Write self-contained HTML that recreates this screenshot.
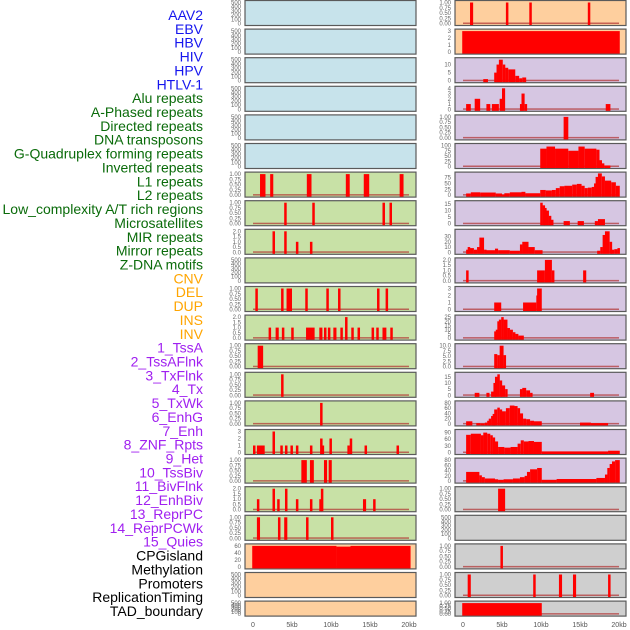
<!DOCTYPE html>
<html><head><meta charset="utf-8"><style>
html,body{margin:0;padding:0;background:#fff;width:630px;height:630px;overflow:hidden}
svg{display:block;font-family:"Liberation Sans",sans-serif}
</style></head><body>
<svg id="chart" width="630" height="630" viewBox="0 0 630 630" xmlns="http://www.w3.org/2000/svg"></svg>
<script>
const labels=["AAV2","EBV","HBV","HIV","HPV","HTLV-1","Alu repeats","A-Phased repeats","Directed repeats","DNA transposons","G-Quadruplex forming repeats","Inverted repeats","L1 repeats","L2 repeats","Low_complexity A/T rich regions","Microsatellites","MIR repeats","Mirror repeats","Z-DNA motifs","CNV","DEL","DUP","INS","INV","1_TssA","2_TssAFlnk","3_TxFlnk","4_Tx","5_TxWk","6_EnhG","7_Enh","8_ZNF_Rpts","9_Het","10_TssBiv","11_BivFlnk","12_EnhBiv","13_ReprPC","14_ReprPCWk","15_Quies","CPGisland","Methylation","Promoters","ReplicationTiming","TAD_boundary"];
const labelGroups=["v","v","v","v","v","v","r","r","r","r","r","r","r","r","r","r","r","r","r","s","s","s","s","s","c","c","c","c","c","c","c","c","c","c","c","c","c","c","c","o","o","o","o","o"];
const xTicks=[0,5,10,15,20];
const xTickLabels=["0","5kb","10kb","15kb","20kb"];
const T500=["0","100","200","300","400","500"];
const T1=["0.00","0.25","0.50","0.75","1.00"];
const T2=["0.0","0.5","1.0","1.5","2.0"];
const T3=["0","1","2","3"];
const T4=["0","1","2","3","4"];
// ticks per panel (values as strings)
const panelTicks=[T500,T500,T500,T500,T500,T500,T1,T1,T2,T500,T1,T2,T1,T1,T1,T3,T1,T2,T1,["0","20","40","60"],T500,T500,
T1,T3,["0","5","10"],T4,T1,["0","25","50","75","100"],["0","25","50","75"],["0","5","10","15"],["0","10","20","30"],T2,T3,["0","5","10","15","20","25"],["0.0","2.5","5.0","7.5","10.0"],["0","5","10","15"],["0","20","40","60","80"],["0","30","60","90"],["0","20","40","60","80"],T1,T500,T1,T1,T1];
const panelMax=[500,500,500,500,500,500,1,1,2,500,1,2,1,1,1,3,1,2,1,60,500,500,
1,3,13,4,1,100,90,16,40,2,3,25,10,17,80,95,80,1,500,1,1,1];
// segments [startKb,endKb,value]
const panelSegs=[[],[],[],[],[],[],
[[0.9,1.6,1],[2.2,2.6,1],[6.9,7.5,1],[11.9,12.4,1],[14.2,14.9,1],[18.8,19.3,1]],
[[4.0,4.3,1],[7.6,7.9,1],[16.6,16.9,1],[17.5,17.8,1]],
[[2.5,2.8,2],[4.0,4.3,2],[5.5,5.8,1],[7.3,7.6,1]],
[],
[[0.3,0.6,1],[3.6,3.9,1],[4.3,5.0,1],[6.7,7.0,1],[9.4,9.7,1],[10.9,11.2,1],[15.9,16.2,1],[17.0,17.3,1]],
[[2.0,2.3,1],[2.9,3.3,1],[3.7,4.0,1],[4.9,5.2,1],[6.8,7.9,1],[8.5,8.9,1],[9.1,9.4,1],[9.6,9.9,1],[10.3,10.7,1],[11.2,11.5,1],[11.8,12.1,2],[12.6,12.9,1],[13.4,13.7,1],[15.2,15.5,1],[15.8,16.1,1],[16.6,17.1,1],[17.6,17.9,1]],
[[0.6,1.3,1]],
[[3.6,3.9,1]],
[[8.6,8.9,1]],
[[0,0.3,1],[0.5,1.5,1],[2.5,2.8,3],[3.5,3.8,1],[4.1,4.4,1],[4.8,5.1,1],[5.5,5.8,1],[7.3,7.6,1],[8.6,8.8,2],[8.8,9.0,1],[9.8,10.1,2],[12.1,12.4,1],[12.4,12.6,2],[14.3,14.6,1],[18.4,18.7,1]],
[[6.2,6.9,1],[7.3,7.8,1],[9.1,9.5,1],[9.7,10.1,1]],
[[0.5,0.8,1],[2.5,2.8,2],[3.1,3.4,1],[4.1,4.4,2],[5.5,5.8,1],[7.3,7.6,1],[8.5,8.7,1],[8.7,8.9,2],[14.1,14.5,1],[15.4,15.7,1]],
[[0.5,0.9,1],[3.2,3.5,1],[4.0,4.4,1],[6.8,7.1,1],[10.0,10.3,1]],
[[-0.1,10.7,60],[10.7,12.5,58],[12.5,20.2,60]],
[],[],
[[0.9,1.3,1],[5.5,5.8,1],[8.5,8.8,1],[16.0,16.3,1]],
[[-0.1,20.1,3]],
[[2.6,3.2,1],[4.0,4.3,5],[4.3,4.6,10],[4.6,5.1,13],[5.1,5.4,10],[5.4,5.8,8],[5.8,6.7,7],[6.7,7.2,3],[7.2,7.6,1.5],[7.6,8.1,2]],
[[0.4,1.0,1],[1.5,2.2,2],[3.0,3.5,1],[3.7,4.6,1],[4.7,5.0,2],[5.0,5.4,4],[7.3,7.5,1],[7.5,7.9,3],[7.9,8.2,1],[18.3,18.9,1]],
[[12.9,13.5,1]],
[[9.9,10.7,85],[10.7,11.8,95],[11.8,13.5,85],[13.5,14.8,75],[14.8,15.6,95],[15.6,17.1,85],[17.1,17.5,80],[17.5,17.8,30],[17.8,18.1,15],[18.1,18.9,5]],
[[0.4,1.0,7],[1.0,2.2,12],[2.2,4.2,11],[4.2,5.0,7],[5.0,5.3,2],[5.3,6.0,8],[6.0,7.5,12],[7.5,8.0,14],[8.0,9.9,8],[9.9,10.6,22],[10.6,11.4,20],[11.4,11.9,22],[11.9,12.4,30],[12.4,13.0,38],[13.0,14.0,40],[14.0,14.6,45],[14.6,15.2,48],[15.2,15.6,40],[15.6,16.0,30],[16.0,16.5,32],[16.5,16.8,35],[16.8,17.0,50],[17.0,17.3,78],[17.3,17.8,93],[17.8,18.2,80],[18.2,19.0,62],[19.0,19.6,55],[19.6,20.1,40]],
[[9.9,10.2,16],[10.2,10.4,14],[10.4,10.7,12],[10.7,11.0,10],[11.0,11.2,6],[11.2,11.6,3],[12.9,13.7,2],[14.7,15.5,2],[16.9,17.3,2],[17.3,18.2,3.5]],
[[0.4,0.6,5],[0.6,0.9,10],[0.9,1.4,8],[1.4,1.8,5],[1.8,2.1,10],[2.1,2.7,28],[2.7,3.0,5],[3.0,4.1,4],[4.1,4.5,7],[4.5,6.0,4],[6.0,7.3,3],[7.3,7.6,15],[7.6,8.4,20],[8.4,9.2,10],[9.2,10.2,4],[17.2,17.6,3],[17.6,17.9,10],[17.9,18.2,33],[18.2,18.8,40],[18.8,19.0,20],[19.0,19.4,5],[19.4,19.8,6],[19.8,20.1,8]],
[[0.4,0.7,1],[9.5,10.5,1],[10.5,11.4,2],[11.4,11.7,1],[15.4,15.8,1]],
[[4.0,4.9,1],[7.7,9.4,1],[9.4,9.5,2],[9.5,10.1,3]],
[[4.0,4.2,8],[4.2,4.4,10],[4.4,4.6,20],[4.6,4.9,22],[4.9,5.2,25],[5.2,5.7,22],[5.7,6.0,12],[6.0,6.4,10],[6.4,6.7,7],[6.7,7.1,5],[7.1,7.8,3]],
[[4.0,4.4,6],[4.4,4.7,5.5],[4.7,5.2,10],[5.2,5.4,5.5]],
[[1.5,2.1,2],[3.0,3.4,2],[3.6,3.9,3],[3.9,4.1,10],[4.1,4.4,15],[4.4,4.7,17],[4.7,4.9,12],[4.9,5.4,8],[5.4,5.7,5],[7.3,7.6,5],[7.6,8.1,6],[8.1,8.6,4],[8.6,8.9,2],[16.3,16.8,2]],
[[0.4,1.2,10],[1.7,2.2,3],[2.2,2.8,2],[2.8,3.1,5],[3.1,3.3,12],[3.3,3.6,20],[3.6,3.8,30],[3.8,4.0,38],[4.0,4.4,55],[4.4,4.7,62],[4.7,5.0,55],[5.0,5.5,48],[5.5,6.0,60],[6.0,6.6,70],[6.6,7.0,68],[7.0,7.3,60],[7.3,7.7,40],[7.7,8.1,20],[8.1,8.6,18],[8.6,9.1,12],[9.1,10.1,10],[15.0,16.4,5],[16.4,18.6,3]],
[[0.4,1.0,80],[1.0,2.3,85],[2.3,2.6,78],[2.6,3.1,90],[3.1,3.5,85],[3.5,3.8,78],[3.8,4.1,68],[4.1,4.5,50],[4.5,5.3,25],[5.3,6.1,22],[6.1,7.0,25],[7.0,7.4,40],[7.4,7.8,55],[7.8,8.4,50],[8.4,9.1,52],[9.1,10.1,48],[10.1,18.6,5],[18.6,20.1,8]],
[[0.4,2.1,35],[2.1,2.4,22],[2.4,2.8,15],[2.8,4.1,10],[4.1,4.5,7],[4.5,5.2,5],[5.2,6.4,7],[6.4,7.3,10],[7.3,7.9,15],[7.9,8.2,20],[8.2,8.6,35],[8.6,9.5,45],[9.5,10.1,50],[10.1,12.0,5],[12.0,17.1,8],[17.1,18.2,12],[18.2,18.5,25],[18.5,18.8,50],[18.8,19.1,65],[19.1,19.5,75],[19.5,20.1,80]],
[[4.5,5.4,1]],
[],
[[4.8,5.0,1]],
[[0.6,1.0,1],[9.0,9.3,1],[12.3,12.7,1],[14.1,14.5,1],[18.6,18.9,1]],
[[-0.1,10.1,1]]
];
const bgColors={v:"#c7e3eb",r:"#c8e1a6",s:"#fecf9e",c:"#d6c6e2",o:"#cfcfcf"};
const labelColors={v:"#1515ee",r:"#0a6b0a",s:"#ffa500",c:"#a020f0",o:"#000"};
const rightBg=["s","s","c","c","c","c","c","c","c","c","c","c","c","c","c","c","c","o","o","o","o","o"];
const NS="http://www.w3.org/2000/svg";
const svg=document.getElementById("chart");
function mk(tag,attrs,parent){const e=document.createElementNS(NS,tag);for(const k in attrs)e.setAttribute(k,attrs[k]);(parent||svg).appendChild(e);return e;}
const KB=7.8;
function xScale(col,kb){return (col===0?253:463)+kb*KB;}
// labels
labels.forEach((t,i)=>{
  const e=mk("text",{x:203,y:(20+i*13.86).toFixed(2),"text-anchor":"end","font-size":"14",fill:labelColors[labelGroups[i]]});
  e.textContent=t;
  
  
});
// panels
for(let p=0;p<44;p++){
  const col=p<22?0:1, row=p%22;
  const top=0.5+row*28.6, h=row===21?15:25;
  const left=col===0?245:455, w=171;
  const grp=col===0?labelGroups[p]:rightBg[row];
  const g=mk("g",{});
  
  
  const r=mk("rect",{x:left,y:top,width:w,height:h,fill:bgColors[grp],stroke:"#5a5a5a","stroke-width":"1.2"},g);
  
  
  const y0=top+h-2, yh=h-4, ymax=panelMax[p];
  const yS=v=>y0-v/ymax*yh;
  // ticks
  const ticks=panelTicks[p];
  ticks.forEach(t=>{
    const v=parseFloat(t);
    const tx=mk("text",{x:left-4,y:(yS(v)+2).toFixed(2),"text-anchor":"end","font-size":"6",fill:"#666"},g);
    tx.textContent=t;
    
    
  });
  const segs=panelSegs[p];
  if(segs.length){
    const bl=mk("rect",{x:xScale(col,0),y:y0-1,width:20*KB,height:1.5,fill:"#b03030",opacity:"0.7"},g);
    
    
  }
  segs.forEach(s=>{
    const x1=xScale(col,s[0]), x2=xScale(col,s[1]);
    const yy=Math.max(yS(s[2]),top+0.5);
    const b=mk("rect",{x:x1.toFixed(2),y:yy.toFixed(2),width:Math.max(x2-x1,2.5).toFixed(2),height:(y0+1.5-yy).toFixed(2),fill:"#ff0000"},g);
    
    
  });
}
// x axes
[0,1].forEach(col=>{
  xTicks.forEach((v,i)=>{
    const t=mk("text",{x:xScale(col,v),y:627,"text-anchor":"middle","font-size":"7",fill:"#555"});
    t.textContent=xTickLabels[i];
    
    
  });
});
</script>
</body></html>
